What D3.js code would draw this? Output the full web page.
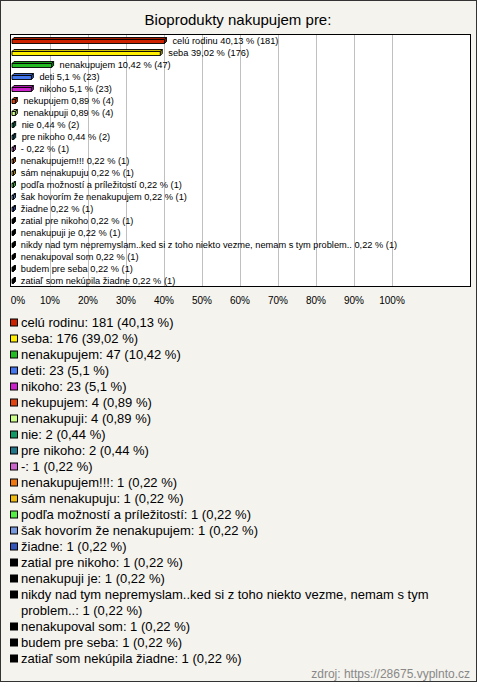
<!DOCTYPE html>
<html><head><meta charset="utf-8">
<script src="https://cdn.jsdelivr.net/npm/d3@7"></script>
<style>
html,body{margin:0;padding:0;background:#fff;}
svg{display:block;font-family:"Liberation Sans",Arial,sans-serif;}
</style></head><body>
<svg id="c" width="480" height="687"></svg>
<script>
const title = "Bioprodukty nakupujem pre:";
const categories = ["celú rodinu","seba","nenakupujem","deti","nikoho","nekupujem","nenakupuji","nie","pre nikoho","-","nenakupujem!!!","sám nenakupuju","podľa možností a príležitostí","šak hovorím že nenakupujem","žiadne","zatial pre nikoho","nenakupuji je","nikdy nad tym nepremyslam..ked si z toho niekto vezme, nemam s tym problem..","nenakupoval som","budem pre seba","zatiaľ som nekúpila žiadne"];
const counts = [181,176,47,23,23,4,4,2,2,1,1,1,1,1,1,1,1,1,1,1,1];
const percents = [40.13,39.02,10.42,5.1,5.1,0.89,0.89,0.44,0.44,0.22,0.22,0.22,0.22,0.22,0.22,0.22,0.22,0.22,0.22,0.22,0.22];
const colors = ["#cc2200","#ffee00","#22bb22","#4477ee","#cc22cc","#e04410","#ccff88","#119966","#227788","#cc66cc","#ee7711","#eebb11","#55ee44","#7799dd","#3355bb","#000000","#000000","#000000","#000000","#000000","#000000"];
const ticks = [0,10,20,30,40,50,60,70,80,90,100];
const source = "zdroj: https://28675.vyplnto.cz";

const fmt = v => String(v).replace(".", ",");
const svg = d3.select("#c");

// background + frame
svg.append("rect").attr("x",0.5).attr("y",0.5).attr("width",476).attr("height",681)
  .attr("fill","#f4f3ee").attr("stroke","#333").attr("stroke-width",1);

svg.append("text").attr("x",238).attr("y",25).attr("text-anchor","middle")
  .attr("font-size",15).attr("fill","#000").text(title);

const plot = {l:10.5, t:34.5, r:470.5, b:286.5};
const x = d3.scaleLinear().domain([0,100]).range([12,392]);
const y = d3.scaleBand().domain(categories).range([plot.t+0.5, plot.b+0.5]).padding(0);

svg.append("rect").attr("x",plot.l).attr("y",plot.t).attr("width",plot.r-plot.l).attr("height",plot.b-plot.t)
  .attr("fill","#fff");

// gridlines
svg.append("g").selectAll("line").data(ticks.filter(t=>t>0)).join("line")
  .attr("x1",d=>Math.round(x(d))+0.5).attr("x2",d=>Math.round(x(d))+0.5)
  .attr("y1",plot.t).attr("y2",plot.b).attr("stroke","#c0c0c0").attr("stroke-width",1);

// tick labels
svg.append("g").selectAll("text").data(ticks).join("text")
  .attr("x",d=>x(d)+(d===0?6:0)).attr("y",304).attr("text-anchor","middle")
  .attr("font-size",10).attr("fill","#000").text(d=>d+"%");

// 3D bars
const dd = 2;
const bars = svg.append("g");
categories.forEach((c,i)=>{
  const cy = y(c) + y.bandwidth()/2;
  const x0 = x(0), x1 = Math.max(x(percents[i]), x0+1.5);
  const fy = cy - 1.5, fh = 4;
  const col = d3.color(colors[i]);
  const g = bars.append("g").attr("stroke","#000").attr("stroke-width",0.9).attr("stroke-linejoin","round");
  g.append("polygon").attr("points",[[x0,fy],[x0+dd,fy-dd],[x1+dd,fy-dd],[x1,fy]].join(" "))
    .attr("fill",col.darker(0.6));
  g.append("polygon").attr("points",[[x1,fy],[x1+dd,fy-dd],[x1+dd,fy+fh-dd],[x1,fy+fh]].join(" "))
    .attr("fill",col.darker(1.2));
  g.append("rect").attr("x",x0).attr("y",fy).attr("width",x1-x0).attr("height",fh).attr("fill",colors[i]);
  svg.append("text").attr("x",x(percents[i])+8).attr("y",cy+3.2)
    .attr("font-size",9.25).attr("fill","#000")
    .text(`${c} ${fmt(percents[i])} % (${counts[i]})`);
});

// frame of plot
svg.append("rect").attr("x",plot.l).attr("y",plot.t).attr("width",plot.r-plot.l).attr("height",plot.b-plot.t)
  .attr("fill","none").attr("stroke","#000").attr("stroke-width",1);

// legend
let ly = 322.5;
const maxW = 440;
categories.forEach((c,i)=>{
  svg.append("rect").attr("x",10.5).attr("y",ly-3.5).attr("width",7).attr("height",7)
    .attr("fill",colors[i]).attr("stroke","#000").attr("stroke-width",1);
  const full = `${c}: ${counts[i]} (${fmt(percents[i])} %)`;
  const words = full.split(" ");
  let line = [];
  let t = svg.append("text").attr("x",21).attr("y",ly+4.5).attr("font-size",13).attr("fill","#000");
  for (const w of words){
    line.push(w);
    t.text(line.join(" "));
    if (t.node().getComputedTextLength() > maxW && line.length>1){
      line.pop();
      t.text(line.join(" "));
      ly += 16;
      line = [w];
      t = svg.append("text").attr("x",21).attr("y",ly+4.5).attr("font-size",13).attr("fill","#000").text(w);
    }
  }
  ly += 16;
});

svg.append("text").attr("x",470).attr("y",678).attr("text-anchor","end")
  .attr("font-size",12).attr("fill","#888").text(source);
</script>
</body></html>
